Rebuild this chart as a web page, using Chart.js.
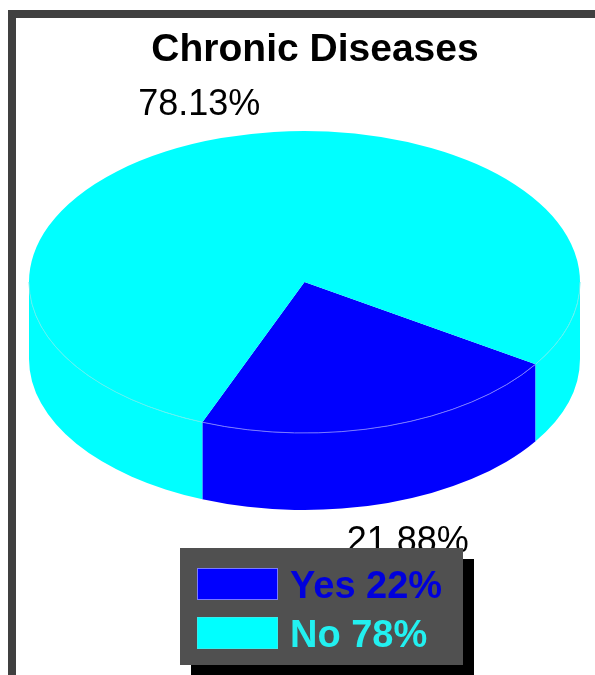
<!DOCTYPE html>
<html>
<head>
<meta charset="utf-8">
<title>Chronic Diseases</title>
<script src="https://cdn.jsdelivr.net/npm/chart.js@4/dist/chart.umd.min.js"></script>
<style>
  html, body { margin: 0; padding: 0; background: #fff; overflow: hidden; }
  #frame {
    position: absolute; left: 8px; top: 10px; right: 0; bottom: 0;
    border-left: 8px solid #404040; border-top: 8px solid #404040;
  }
  canvas { position: absolute; left: 0; top: 0; }
</style>
</head>
<body>
<div id="frame"></div>
<canvas id="pie" width="595" height="675"></canvas>
<script>
const chartTitle = 'Chronic Diseases';
const categories = ['Yes', 'No'];
const percentages = [21.88, 78.13];
const sliceColors = ['#0000ff', '#00ffff'];
const legendTextColors = ['#0000dc', '#22f0f0'];
const rimColors = ['#7a7aff', '#60f0f0'];
const swatchEdges = ['#7a7aff', '#30f0f0'];

const FONT = '"Liberation Sans", Arial, sans-serif';
const SQUASH = 151 / 275.5;   // tilt of the pie, height / width of the top face
const DEPTH = 77;             // height of the side wall
const LABEL_RADIUS = 1.25;

// side wall, only the part of each slice that faces the viewer
function drawWall(ctx, arc, color) {
  const ry = arc.outerRadius * SQUASH;
  for (let k = 0; k < 2; k++) {
    const a = Math.max(arc.startAngle, k * 2 * Math.PI);
    const b = Math.min(arc.endAngle, k * 2 * Math.PI + Math.PI);
    if (a >= b) continue;
    ctx.beginPath();
    ctx.ellipse(arc.x, arc.y, arc.outerRadius, ry, 0, a, b);
    ctx.ellipse(arc.x, arc.y + DEPTH, arc.outerRadius, ry, 0, b, a, true);
    ctx.closePath();
    ctx.fillStyle = color;
    ctx.fill();
  }
}

function drawRim(ctx, arc, color) {
  const ry = arc.outerRadius * SQUASH;
  for (let k = 0; k < 2; k++) {
    const a = Math.max(arc.startAngle, k * 2 * Math.PI);
    const b = Math.min(arc.endAngle, k * 2 * Math.PI + Math.PI);
    if (a >= b) continue;
    ctx.beginPath();
    ctx.ellipse(arc.x, arc.y, arc.outerRadius, ry, 0, a, b);
    ctx.strokeStyle = color;
    ctx.lineWidth = 1;
    ctx.stroke();
  }
}

function drawLegend(ctx) {
  ctx.fillStyle = '#000';
  ctx.fillRect(191, 559, 283, 116);
  ctx.fillStyle = '#505050';
  ctx.fillRect(180, 548, 283, 117);

  ctx.font = 'bold 38px ' + FONT;
  ctx.textAlign = 'left';
  ctx.textBaseline = 'alphabetic';
  categories.forEach((cat, i) => {
    const y = 568 + i * 49;
    ctx.fillStyle = sliceColors[i];
    ctx.fillRect(197, y, 81, 32);
    ctx.strokeStyle = swatchEdges[i];
    ctx.lineWidth = 1;
    ctx.strokeRect(197.5, y + 0.5, 80, 31);
    ctx.fillStyle = legendTextColors[i];
    ctx.fillText(cat + ' ' + Math.round(percentages[i]) + '%', 290, y + 30);
  });
}

const pie3d = {
  id: 'pie3d',
  beforeDatasetDraw(chart) {
    const ctx = chart.ctx;
    const arcs = chart.getDatasetMeta(0).data;
    arcs.forEach((arc, i) => drawWall(ctx, arc, sliceColors[i]));
    // top face: the library's own arcs, flattened around the centre
    ctx.save();
    ctx.translate(0, arcs[0].y);
    ctx.scale(1, SQUASH);
    ctx.translate(0, -arcs[0].y);
  },
  afterDatasetDraw(chart) {
    const ctx = chart.ctx;
    ctx.restore();
    const arcs = chart.getDatasetMeta(0).data;
    arcs.forEach((arc, i) => drawRim(ctx, arc, rimColors[i]));

    ctx.fillStyle = '#000';
    ctx.textAlign = 'center';
    ctx.textBaseline = 'alphabetic';
    ctx.font = 'bold 39px ' + FONT;
    ctx.fillText(chartTitle, 315, 61);

    // percentage labels sit outside the middle of each slice
    ctx.font = '36px ' + FONT;
    ctx.textBaseline = 'middle';
    arcs.forEach((arc, i) => {
      const mid = (arc.startAngle + arc.endAngle) / 2;
      const x = arc.x + Math.cos(mid) * arc.outerRadius * LABEL_RADIUS - 1;
      let y = arc.y + Math.sin(mid) * arc.outerRadius * SQUASH * LABEL_RADIUS;
      if (Math.sin(mid) > 0) y += DEPTH;
      ctx.fillText(percentages[i].toFixed(2) + '%', x, y + 3);
    });

    drawLegend(ctx);
  }
};

new Chart(document.getElementById('pie'), {
  type: 'pie',
  data: {
    labels: categories,
    datasets: [{
      data: percentages,
      backgroundColor: sliceColors,
      borderWidth: 0
    }]
  },
  options: {
    responsive: false,
    animation: false,
    rotation: 123,
    layout: { padding: { left: 29, right: 15, top: 6.5, bottom: 117.5 } },
    plugins: {
      legend: { display: false },
      title: { display: false },
      tooltip: { enabled: false }
    }
  },
  plugins: [pie3d]
});
</script>
</body>
</html>
